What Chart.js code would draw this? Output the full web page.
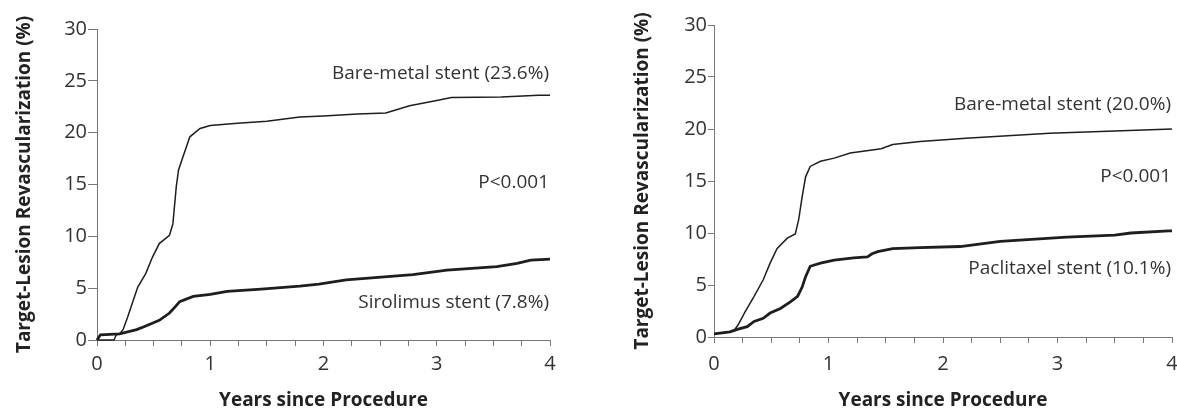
<!DOCTYPE html>
<html><head><meta charset="utf-8">
<script src="https://cdn.jsdelivr.net/npm/chart.js@4"></script>
<style>
html,body{margin:0;padding:0;background:#fff;width:1177px;height:410px;overflow:hidden}
.box{position:absolute;top:0;height:410px}
</style></head><body>
<div class="box" style="left:0;width:590px"><canvas id="c1"></canvas></div>
<div class="box" style="left:590px;width:587px"><canvas id="c2"></canvas></div>
<script>
// ---- data ----
const leftBareYears = [0,0.15,0.17,0.20,0.23,0.27,0.36,0.43,0.49,0.55,0.64,0.67,0.70,0.72,0.76,0.82,0.91,1.0,1.24,1.5,1.79,2.0,2.3,2.55,2.76,3.0,3.13,3.57,3.9,4.0];
const leftBareValues = [0,0,0.5,0.6,1.0,2.2,5.1,6.4,8.0,9.3,10.1,11.2,14.8,16.4,17.7,19.6,20.4,20.7,20.9,21.1,21.5,21.6,21.8,21.9,22.6,23.1,23.4,23.45,23.6,23.6];
const sirolimusYears = [0,0.03,0.2,0.35,0.42,0.55,0.64,0.69,0.73,0.85,1.0,1.15,1.45,1.79,1.96,2.2,2.79,3.09,3.53,3.71,3.83,4.0];
const sirolimusValues = [0,0.5,0.6,1.0,1.3,1.9,2.6,3.2,3.7,4.2,4.4,4.7,4.9,5.2,5.4,5.8,6.3,6.75,7.07,7.4,7.7,7.8];
const rightBareYears = [0,0.14,0.18,0.21,0.27,0.35,0.43,0.49,0.55,0.64,0.71,0.74,0.77,0.80,0.84,0.93,1.05,1.19,1.46,1.56,1.8,2.2,2.93,3.5,4.0];
const rightBareValues = [0.3,0.5,0.7,1.15,2.4,3.9,5.5,7.1,8.5,9.5,9.9,11.3,13.5,15.4,16.4,16.9,17.2,17.7,18.1,18.5,18.8,19.1,19.6,19.8,20.0];
const paclitaxelYears = [0,0.14,0.21,0.29,0.35,0.43,0.49,0.58,0.67,0.73,0.77,0.80,0.84,0.93,1.05,1.22,1.34,1.38,1.43,1.56,1.8,2.15,2.5,3.08,3.5,3.64,3.97,4.0];
const paclitaxelValues = [0.3,0.5,0.75,1.0,1.5,1.8,2.3,2.75,3.4,3.9,4.8,5.8,6.8,7.1,7.4,7.6,7.7,8.0,8.2,8.5,8.6,8.7,9.2,9.6,9.8,10.0,10.2,10.2];

const yTicks = [0,5,10,15,20,25,30];
const xTicks = [0,1,2,3,4];
const yTitle = 'Target-Lesion Revascularization (%)';
const xTitle = 'Years since Procedure';

const leftLabels = ['Bare-metal stent (23.6%)','P<0.001','Sirolimus stent (7.8%)'];
const leftLabelY = [25.7,15.2,3.6];
const rightLabels = ['Bare-metal stent (20.0%)','P<0.001','Paclitaxel stent (10.1%)'];
const rightLabelY = [22.3,15.4,6.6];

const FONT = "'Open Sans', 'Liberation Sans', sans-serif";
const INK = '#1e1e1e';

function pts(xs, ys){ return xs.map((x,i)=>({x:x, y:ys[i]})); }

const labelPlugin = {
  id:'labels',
  afterDatasetsDraw(chart, args, opts){
    const ctx = chart.ctx, xs = chart.scales.x, ys = chart.scales.y;
    ctx.save();
    ctx.font = '19px ' + FONT;
    ctx.fillStyle = '#333';
    ctx.textAlign = 'right';
    ctx.textBaseline = 'middle';
    opts.texts.forEach((t,i)=>{
      ctx.fillText(t, xs.getPixelForValue(4) - 1, ys.getPixelForValue(opts.ys[i]));
    });
    ctx.restore();
  }
};

function makeChart(id, s1x, s1y, s2x, s2y, texts, tys, geo){
  new Chart(document.getElementById(id), {
    type:'line',
    data:{datasets:[
      {data:pts(s1x,s1y), borderColor:INK, borderWidth:1.5, pointRadius:0, tension:0, clip:4},
      {data:pts(s2x,s2y), borderColor:INK, borderWidth:2.8, pointRadius:0, tension:0, clip:4}
    ]},
    options:{
      responsive:true, maintainAspectRatio:false, animation:false,
      layout:{padding:{left:0, right:geo.right, top:geo.top, bottom:0}},
      plugins:{legend:{display:false}, tooltip:{enabled:false}, labels:{texts:texts, ys:tys}},
      scales:{
        x:{type:'linear', min:0, max:4,
          afterBuildTicks(s){ s.ticks = []; for(let i=0;i<=16;i++) s.ticks.push({value:i/4}); },
          ticks:{autoSkip:false, maxRotation:0, color:'#333', font:{family:FONT,size:20}, padding:geo.xpad,
            callback:(v)=> xTicks.includes(v) ? String(v) : ''},
          grid:{drawOnChartArea:false, tickLength:6, tickColor:'#777', tickWidth:1},
          border:{color:'#777', width:1},
          title:{display:true, text:xTitle, color:'#222', font:{family:FONT,size:19,weight:'bold',lineHeight:1}, padding:{top:0,bottom:0}},
          afterFit(s){ s.height = geo.xh; s.paddingLeft = 0; s.paddingRight = 0; }
        },
        y:{min:0, max:30,
          afterBuildTicks(s){ s.ticks = yTicks.map(v=>({value:v})); },
          ticks:{color:'#333', font:{family:FONT,size:20}, padding:1},
          grid:{drawOnChartArea:false, tickLength:geo.ytl, tickColor:'#777', tickWidth:1},
          border:{color:'#777', width:1},
          title:{display:true, text:yTitle, color:'#222', font:{family:FONT,size:19,weight:'bold'}, padding:{top:geo.ytt, bottom:0}},
          afterFit(s){ s.width = geo.yw; s.paddingTop = 0; s.paddingBottom = 0; }
        }
      }
    },
    plugins:[labelPlugin]
  });
}

makeChart('c1', leftBareYears, leftBareValues, sirolimusYears, sirolimusValues, leftLabels, leftLabelY,
  {right:40, top:29, xh:70, xpad:6, yw:97, ytl:9, ytt:13});
makeChart('c2', rightBareYears, rightBareValues, paclitaxelYears, paclitaxelValues, rightLabels, rightLabelY,
  {right:5, top:25, xh:73, xpad:9, yw:124, ytl:6, ytt:41});
</script>
</body></html>
